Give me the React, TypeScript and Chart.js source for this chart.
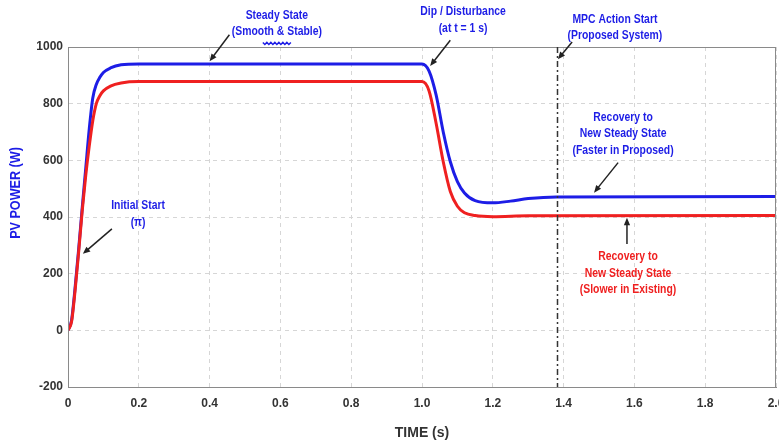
import React, { useEffect, useRef } from "react";
import { Chart, registerables } from "chart.js";

Chart.register(...registerables);

const blueTimes = [0, 0.01, 0.02, 0.03, 0.04, 0.05, 0.06, 0.07, 0.08, 0.09, 0.1, 0.12, 0.15, 0.2, 1.0, 1.02, 1.04, 1.06, 1.08, 1.1, 1.12, 1.15, 1.2, 1.25, 1.3, 1.38, 2.0];
const blueValues = [0, 35, 150, 285, 430, 570, 710, 820, 868, 893, 910, 926, 937, 940, 940, 915, 830, 700, 595, 525, 485, 458, 450, 456, 465, 471, 472];

const redTimes = [0, 0.01, 0.02, 0.03, 0.04, 0.05, 0.06, 0.07, 0.08, 0.09, 0.1, 0.12, 0.15, 0.2, 1.0, 1.02, 1.04, 1.06, 1.08, 1.1, 1.12, 1.15, 1.2, 1.3, 2.0];
const redValues = [0, 30, 140, 275, 420, 545, 650, 740, 800, 828, 845, 862, 873, 878, 878, 845, 730, 595, 490, 438, 415, 405, 401, 404, 405];

const xTicks = [0, 0.2, 0.4, 0.6, 0.8, 1.0, 1.2, 1.4, 1.6, 1.8, 2.0];
const yTicks = [-200, 0, 200, 400, 600, 800, 1000];
const mpcTime = 1.38;

const BLUE = "#1d1de6";
const RED = "#ef2020";
const FONT = "'Liberation Sans', Arial, sans-serif";

// annotation anchors in data units
const annotations = [
  { lines: ["Steady State", "(Smooth & Stable)"], color: BLUE, tx: 0.59, ty: [1112, 1055], from: [0.456, 1043], to: [0.40, 950], squiggle: true },
  { lines: ["Dip / Disturbance", "(at t = 1 s)"], color: BLUE, tx: 1.116, ty: [1124, 1067], from: [1.08, 1024], to: [1.023, 933] },
  { lines: ["MPC Action Start", "(Proposed System)"], color: BLUE, tx: 1.545, ty: [1098, 1041], from: [1.424, 1018], to: [1.384, 957] },
  { lines: ["Recovery to", "New Steady State", "(Faster in Proposed)"], color: BLUE, tx: 1.568, ty: [752, 694, 634], from: [1.554, 592], to: [1.486, 486] },
  { lines: ["Recovery to", "New Steady State", "(Slower in Existing)"], color: RED, tx: 1.582, ty: [262, 202, 145], from: [1.579, 305], to: [1.579, 397] },
  { lines: ["Initial Start", "(π)"], color: BLUE, tx: 0.198, ty: [440, 380], from: [0.124, 358], to: [0.042, 270] },
];

function drawArrow(ctx: CanvasRenderingContext2D, x1: number, y1: number, x2: number, y2: number) {
  const ang = Math.atan2(y2 - y1, x2 - x1);
  const head = 8;
  ctx.save();
  ctx.strokeStyle = "#222";
  ctx.fillStyle = "#222";
  ctx.lineWidth = 1.5;
  ctx.beginPath();
  ctx.moveTo(x1, y1);
  ctx.lineTo(x2 - Math.cos(ang) * head * 0.8, y2 - Math.sin(ang) * head * 0.8);
  ctx.stroke();
  ctx.beginPath();
  ctx.moveTo(x2, y2);
  ctx.lineTo(x2 - head * Math.cos(ang - 0.4), y2 - head * Math.sin(ang - 0.4));
  ctx.lineTo(x2 - head * Math.cos(ang + 0.4), y2 - head * Math.sin(ang + 0.4));
  ctx.closePath();
  ctx.fill();
  ctx.restore();
}

const overlayPlugin = {
  id: "overlay",
  afterDraw(chart: any) {
    const { ctx, chartArea, scales } = chart;
    const xs = scales.x;
    const ys = scales.y;
    // plot frame
    ctx.save();
    ctx.strokeStyle = "#8a8a8a";
    ctx.lineWidth = 1;
    ctx.strokeRect(chartArea.left + 0.5, chartArea.top + 0.5, chartArea.right - chartArea.left - 1, chartArea.bottom - chartArea.top);
    ctx.restore();
    // MPC line
    const mx = Math.round(xs.getPixelForValue(mpcTime)) + 0.5;
    ctx.save();
    ctx.strokeStyle = "#333";
    ctx.lineWidth = 1.5;
    ctx.setLineDash([6, 3, 2, 3]);
    ctx.beginPath();
    ctx.moveTo(mx, chartArea.top);
    ctx.lineTo(mx, chartArea.bottom);
    ctx.stroke();
    ctx.restore();
    // y axis title
    ctx.save();
    ctx.translate(16, (chartArea.top + chartArea.bottom) / 2 - 24);
    ctx.rotate(-Math.PI / 2);
    ctx.scale(0.9, 1);
    ctx.font = `bold 14px ${FONT}`;
    ctx.fillStyle = BLUE;
    ctx.textAlign = "center";
    ctx.textBaseline = "middle";
    ctx.fillText("PV POWER (W)", 0, 0);
    ctx.restore();
    // annotations
    for (const a of annotations) {
      const px = xs.getPixelForValue(a.tx);
      a.lines.forEach((l, i) => {
        ctx.save();
        ctx.translate(px, ys.getPixelForValue(a.ty[i]));
        ctx.scale(0.8, 1);
        ctx.font = `bold 13px ${FONT}`;
        ctx.fillStyle = a.color;
        ctx.textAlign = "center";
        ctx.textBaseline = "middle";
        ctx.fillText(l, 0, 0);
        ctx.restore();
      });
      if (a.squiggle) {
        const sy = ys.getPixelForValue(a.ty[a.ty.length - 1]) + 12;
        ctx.save();
        ctx.strokeStyle = a.color;
        ctx.lineWidth = 1.5;
        ctx.beginPath();
        for (let k = 0; k <= 14; k++) {
          const x = px - 14 + k * 2;
          const y = sy + (k % 2 === 0 ? -1 : 1);
          if (k === 0) ctx.moveTo(x, y);
          else ctx.lineTo(x, y);
        }
        ctx.stroke();
        ctx.restore();
      }
      drawArrow(ctx, xs.getPixelForValue(a.from[0]), ys.getPixelForValue(a.from[1]), xs.getPixelForValue(a.to[0]), ys.getPixelForValue(a.to[1]));
    }
  },
};

export default function App() {
  const ref = useRef<HTMLCanvasElement>(null);
  useEffect(() => {
    document.body.style.margin = "0";
    const chart = new Chart(ref.current!, {
      type: "line",
      data: {
        datasets: [
          {
            label: "Existing",
            data: redTimes.map((t, i) => ({ x: t, y: redValues[i] })),
            borderColor: RED,
            borderWidth: 3,
            pointRadius: 0,
            cubicInterpolationMode: "monotone",
          },
          {
            label: "Proposed",
            data: blueTimes.map((t, i) => ({ x: t, y: blueValues[i] })),
            borderColor: BLUE,
            borderWidth: 3,
            pointRadius: 0,
            cubicInterpolationMode: "monotone",
          },
        ],
      },
      options: {
        animation: false,
        responsive: false,
        layout: { padding: { top: 47, right: 3, left: 0, bottom: 0 } },
        plugins: { legend: { display: false }, tooltip: { enabled: false } },
        scales: {
          x: {
            type: "linear",
            min: 0,
            max: 2,
            afterBuildTicks: (s: any) => { s.ticks = xTicks.map((v) => ({ value: v })); },
            afterFit: (s: any) => { s.height = 57; s.paddingRight = 0; s.paddingLeft = 0; },
            ticks: {
              color: "#333",
              font: { family: FONT, size: 12, weight: "bold" },
              padding: 9,
              maxRotation: 0,
              autoSkip: false,
              callback: (v: any) => (v === 0 ? "0" : Number(v).toFixed(1)),
            },
            grid: { color: "#d6d6d6", lineWidth: 1, drawTicks: false },
            border: { dash: [4, 4], color: "#8a8a8a" },
            title: { display: true, text: "TIME (s)", color: "#333", font: { family: FONT, size: 14, weight: "bold" }, padding: { top: 10, bottom: 2 } },
          },
          y: {
            type: "linear",
            min: -200,
            max: 1000,
            afterBuildTicks: (s: any) => { s.ticks = yTicks.map((v) => ({ value: v })); },
            afterFit: (s: any) => { s.width = 68; },
            ticks: {
              color: "#333",
              font: { family: FONT, size: 12, weight: "bold" },
              padding: 5,
              callback: (v: any) => String(v),
            },
            grid: { color: "#d6d6d6", lineWidth: 1, drawTicks: false },
            border: { dash: [4, 4], color: "#8a8a8a" },
            title: { display: false },
          },
        },
      },
      plugins: [overlayPlugin],
    } as any);
    return () => chart.destroy();
  }, []);
  return <canvas ref={ref} width={779} height={444} style={{ display: "block" }} />;
}
